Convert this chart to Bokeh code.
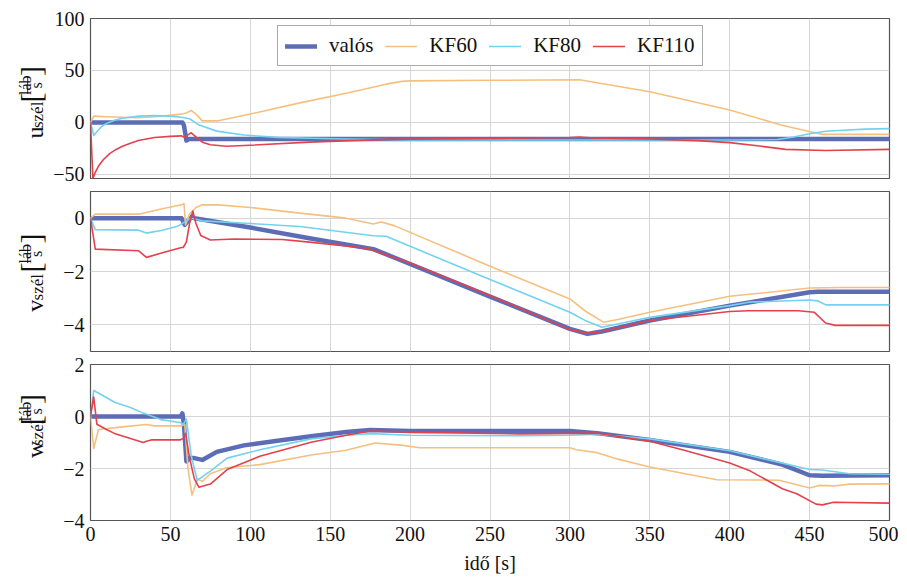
import math
from bokeh.plotting import figure
from bokeh.models import (Legend, LegendItem, FixedTicker, CustomJSTickFormatter, Range1d)
from bokeh.core.properties import value
from bokeh.layouts import column, row
from bokeh.embed import file_html
from bokeh.resources import INLINE

# ---------------- data ----------------
series_names = ["valós", "KF60", "KF80", "KF110"]
x_ticks = [0, 50, 100, 150, 200, 250, 300, 350, 400, 450, 500]

# u_szél panel
u_valos_t = [0, 57.5, 58.5, 60, 61.5, 500]
u_valos = [0, 0, -3, -17.5, -16, -16]
u_kf60_t = [0, 2, 10, 30, 45, 57, 60, 63, 66, 70, 80, 100, 131, 160, 185, 195, 200, 250, 306, 350, 400, 432, 445, 452, 458, 500]
u_kf60 = [0, 6, 5.5, 4.5, 6, 8, 9, 11.5, 8, 1.5, 1.5, 8, 18.8, 28, 36.8, 39.5, 40, 40.5, 41, 29.5, 12, -2.5, -7, -9.5, -11.5, -11.5]
u_kf80_t = [0, 2, 4, 7, 10, 15, 20, 30, 40, 50, 57, 62, 68, 79, 96, 117, 138, 160, 200, 300, 400, 430, 440, 450, 460, 471, 485, 500]
u_kf80 = [0, -12.5, -9, -4, -1, 2, 4, 6, 6.5, 6, 5, 3.5, -2.6, -8.4, -12.2, -14.4, -15.3, -16, -17, -17, -17, -16.5, -14, -11, -8.5, -7.5, -6.5, -6]
u_kf110_t = [0, 1.5, 3, 5, 8, 12, 16, 20, 25, 30, 40, 50, 57, 59, 61, 63, 66, 70, 75, 85, 100, 137, 185, 250, 300, 306, 315, 350, 380, 400, 420, 435, 460, 500]
u_kf110 = [0, -54, -48, -42, -36, -30, -26, -23, -20, -17.5, -14.5, -13.5, -13, -14.5, -12, -10, -14, -19, -21.5, -23, -22, -19, -16.3, -15.5, -14.5, -14, -15, -16, -17.5, -19.5, -23, -26, -27, -26]

# v_szél panel
v_valos_t = [0, 57, 59, 61, 63, 65, 100, 137, 177, 200, 250, 300, 311, 320, 350, 400, 450, 455, 500]
v_valos = [0, 0, -0.25, -0.1, 0.05, 0, -0.35, -0.75, -1.16, -1.72, -2.94, -4.15, -4.34, -4.25, -3.84, -3.28, -2.78, -2.76, -2.76]
v_kf60_t = [0, 3, 30, 45, 57, 58.5, 59.5, 62, 66, 70, 80, 100, 131, 160, 177, 182, 190, 250, 300, 310, 321, 330, 350, 400, 450, 470, 500]
v_kf60 = [0, 0.15, 0.15, 0.35, 0.5, 0.55, -0.25, 0.15, 0.4, 0.5, 0.5, 0.4, 0.19, 0, -0.22, -0.14, -0.28, -1.8, -3.03, -3.5, -3.9, -3.8, -3.53, -2.93, -2.62, -2.6, -2.6]
v_kf80_t = [0, 3, 30, 35, 45, 55, 60, 63, 70, 100, 131, 177, 185, 250, 300, 310, 320, 335, 350, 400, 412, 450, 455, 460, 500]
v_kf80 = [0, -0.43, -0.45, -0.56, -0.45, -0.29, -0.1, 0, -0.1, -0.2, -0.31, -0.66, -0.68, -2.3, -3.53, -3.85, -4.09, -3.9, -3.72, -3.28, -3.15, -3.07, -3.1, -3.25, -3.25]
v_kf110_t = [0, 3, 30, 35, 45, 57, 58, 60, 62, 64, 66, 69, 75, 90, 120, 137, 173, 200, 250, 300, 311, 320, 350, 400, 412, 443, 453, 460, 466, 500]
v_kf110 = [0, -1.16, -1.22, -1.47, -1.3, -1.1, -1.1, -0.9, -0.2, 0.27, -0.2, -0.65, -0.82, -0.78, -0.8, -0.9, -1.13, -1.68, -2.9, -4.18, -4.32, -4.25, -3.84, -3.5, -3.47, -3.47, -3.53, -3.93, -4.02, -4.02]

# w_szél panel
w_valos_t = [0, 56.5, 57.5, 58.5, 60, 62, 65, 70, 79, 96, 117, 138, 160, 175, 200, 300, 317, 350, 400, 433, 450, 458, 500]
w_valos = [0, 0, 0.12, -0.3, -1.73, -1.6, -1.6, -1.67, -1.36, -1.11, -0.93, -0.76, -0.6, -0.52, -0.56, -0.56, -0.64, -0.9, -1.36, -1.85, -2.26, -2.28, -2.26]
w_kf60_t = [0, 2, 5, 20, 35, 40, 57, 59, 61, 63.5, 67, 70, 75, 85, 106, 138, 160, 178, 194, 206, 300, 304, 317, 330, 350, 392, 431, 450, 456, 465, 475, 500]
w_kf60 = [0, -1.23, -0.5, -0.4, -0.31, -0.36, -0.36, -0.3, -2.0, -3.02, -2.4, -2.5, -2.2, -1.97, -1.85, -1.48, -1.3, -1.02, -1.1, -1.2, -1.2, -1.28, -1.39, -1.64, -1.94, -2.43, -2.45, -2.75, -2.65, -2.67, -2.6, -2.59]
w_kf80_t = [0, 2, 8, 15, 25, 33, 44, 56, 58, 60, 63, 66.8, 75, 85.5, 106, 138, 160, 175, 200, 269, 300, 317, 350, 400, 450, 458, 475, 500]
w_kf80 = [0, 1.0, 0.8, 0.55, 0.35, 0.13, -0.12, -0.23, -0.3, -0.1, -1.5, -2.46, -2.1, -1.6, -1.28, -0.86, -0.72, -0.66, -0.72, -0.74, -0.72, -0.68, -0.86, -1.32, -2.04, -2.06, -2.2, -2.22]
w_kf110_t = [0, 2, 4, 10, 15, 25, 33, 35, 38, 56, 58, 59.5, 62, 65, 67.8, 75, 85.5, 106, 138, 160, 175, 200, 269, 317, 350, 371, 400, 413, 433, 442, 454, 458, 465, 500]
w_kf110 = [0, 0.75, -0.3, -0.5, -0.65, -0.85, -1.0, -0.95, -0.9, -0.9, -0.85, -0.65, -1.6, -2.4, -2.72, -2.6, -2.04, -1.53, -0.99, -0.72, -0.56, -0.6, -0.67, -0.64, -0.95, -1.29, -1.79, -2.1, -2.78, -2.97, -3.37, -3.4, -3.3, -3.33]

# ---------------- style ----------------
FONT = "'Liberation Serif'"
COLORS = ["#5c6db6", "#f5c07f", "#72d2ef", "#e3424d"]
WIDTHS = [4.5, 1.6, 1.6, 1.6]
GRID = "#d6d6d6"
FRAME = "#555555"
TXT = "#111111"
minus_fmt = "return String(tick).replace('-', '\u2212');"
LAB_W = 48
MAIN_W = 850


def label_fig(height, bb, letter, letter_w):
    """Narrow figure holding the rotated y label: letter_szél [láb/s]."""
    f = figure(width=LAB_W, height=height, title=None,
               x_range=Range1d(0, LAB_W), y_range=Range1d(0, height),
               output_backend="svg", toolbar_location=None,
               min_border=0, min_border_left=0, min_border_right=0,
               min_border_top=0, min_border_bottom=0)
    f.axis.visible = False
    f.grid.visible = False
    f.outline_line_color = None
    f.background_fill_color = "white"
    f.border_fill_color = "white"
    sub_w, gap, br_w, frac_w = 26.4, 3.0, 10.0, 19.6
    total = letter_w + sub_w + gap + br_w + frac_w + 1 + br_w
    center = bb + 80 + 1
    s0 = center - total / 2.0
    base = 34.5
    rot = math.pi / 2
    kw = dict(angle=rot, text_font=value(FONT), text_color=TXT, text_baseline="alphabetic")
    f.text(x=[base], y=[s0], text=[letter], text_font_size="24px", text_align="left", **kw)
    f.text(x=[base + 2.5], y=[s0 + letter_w], text=["szél"], text_font_size="17px",
           text_align="left", **kw)
    s_br = s0 + letter_w + sub_w + gap
    f.text(x=[base - 5.0], y=[s_br], text=["["], text_font_size="30px", text_align="left", **kw)
    s_fc = s_br + br_w + frac_w / 2.0
    f.text(x=[base - 9.5], y=[s_fc], text=["láb"], text_font_size="16px", text_align="center", **kw)
    f.text(x=[base + 1.5], y=[s_fc], text=["s"], text_font_size="16px", text_align="center", **kw)
    f.segment(x0=[base - 7.3], y0=[s_fc - frac_w / 2.0], x1=[base - 7.3], y1=[s_fc + frac_w / 2.0],
              line_color=TXT, line_width=0.9)
    f.text(x=[base - 5.0], y=[s_fc + frac_w / 2.0 + 1], text=["]"], text_font_size="30px",
           text_align="left", **kw)
    return f


def make_panel(ylim, yticks, data, show_x, height, bt, bb):
    p = figure(width=MAIN_W, height=height, title=None,
               x_range=Range1d(0, 500), y_range=Range1d(*ylim),
               output_backend="svg", toolbar_location=None,
               min_border_left=90 - LAB_W, min_border_right=9,
               min_border_top=bt, min_border_bottom=bb)
    p.background_fill_color = "white"
    p.border_fill_color = "white"
    p.outline_line_color = FRAME
    p.outline_line_width = 1.2
    renderers = []
    for (t, v), c, w in zip(data, COLORS, WIDTHS):
        r = p.line(t, v, line_color=c, line_width=w, line_join="round", line_cap="round")
        renderers.append(r)
    p.xaxis.ticker = FixedTicker(ticks=x_ticks)
    p.xgrid.ticker = FixedTicker(ticks=x_ticks)
    p.yaxis.ticker = FixedTicker(ticks=yticks)
    p.ygrid.ticker = FixedTicker(ticks=yticks)
    p.grid.grid_line_color = GRID
    p.grid.grid_line_width = 1
    for ax in (p.xaxis, p.yaxis):
        ax.axis_line_color = None
        ax.major_tick_line_color = None
        ax.minor_tick_line_color = None
        ax.major_tick_out = 0
        ax.major_tick_in = 0
        ax.minor_tick_out = 0
        ax.minor_tick_in = 0
        ax.major_label_text_font = FONT
        ax.major_label_text_font_size = "20px"
        ax.major_label_text_color = TXT
        ax.major_label_standoff = 6
    p.yaxis.formatter = CustomJSTickFormatter(code=minus_fmt)
    if show_x:
        p.xaxis.axis_label = "idő [s]"
        p.xaxis.axis_label_text_font = FONT
        p.xaxis.axis_label_text_font_size = "20px"
        p.xaxis.axis_label_text_font_style = "normal"
        p.xaxis.axis_label_text_color = TXT
        p.xaxis.axis_label_standoff = 8
    else:
        p.xaxis.visible = False
    return p, renderers


p1, rs = make_panel((-54, 100), [-50, 0, 50, 100],
                    [(u_valos_t, u_valos), (u_kf60_t, u_kf60), (u_kf80_t, u_kf80), (u_kf110_t, u_kf110)],
                    False, 184, 18, 6)
p2, _ = make_panel((-5, 1), [-4, -2, 0],
                   [(v_valos_t, v_valos), (v_kf60_t, v_kf60), (v_kf80_t, v_kf80), (v_kf110_t, v_kf110)],
                   False, 169, 7, 2)
p3, _ = make_panel((-4, 2), [-4, -2, 0, 2],
                   [(w_valos_t, w_valos), (w_kf60_t, w_kf60), (w_kf80_t, w_kf80), (w_kf110_t, w_kf110)],
                   True, 223, 11, 52)

l1 = label_fig(184, 6, "u", 12.0)
l2 = label_fig(169, 2, "v", 12.0)
l3 = label_fig(223, 52, "w", 17.3)

legend = Legend(items=[LegendItem(label=n, renderers=[r]) for n, r in zip(series_names, rs)],
                location=(187, 112), orientation="horizontal",
                label_text_font=FONT, label_text_font_size="21px", label_text_color=TXT,
                glyph_width=32, glyph_height=20, label_height=20, label_standoff=12,
                spacing=12, padding=7, margin=0,
                border_line_color=FRAME, border_line_width=1.2,
                background_fill_color="white", background_fill_alpha=1)
p1.add_layout(legend)

layout = column(row(l1, p1, spacing=0), row(l2, p2, spacing=0), row(l3, p3, spacing=0), spacing=0)
open("out.html", "w").write(file_html(layout, INLINE))
